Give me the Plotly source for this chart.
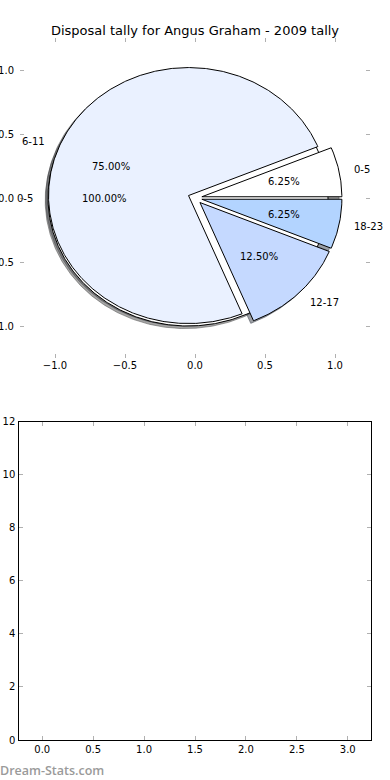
import numpy as np
import plotly.graph_objects as go

# ---------------- data ----------------
title_text = "Disposal tally for Angus Graham - 2009 tally"
under_labels = ["0-5"]
under_values = [16]
pie_labels = ["0-5", "6-11", "12-17", "18-23"]
pie_values = [1, 12, 2, 1]
pie_colors = ["#FFFFFF", "#EAF1FF", "#C5D9FF", "#B3D4FF"]
pie_ticks = [-1.0, -0.5, 0.0, 0.5, 1.0]
bar_xticks = [0.0, 0.5, 1.0, 1.5, 2.0, 2.5, 3.0]
bar_yticks = [0, 2, 4, 6, 8, 10, 12]
watermark = "Dream-Stats.com"

EXPLODE = 0.05
SHADOW = (-0.02, -0.02)
FONT = "DejaVu Sans"


def hex_rgb(h):
    h = h.lstrip("#")
    return tuple(int(h[i:i + 2], 16) for i in (0, 2, 4))


def build_wedges(values, labels, colors):
    total = float(sum(values))
    start = 0.0
    out = []
    for v, lab, col in zip(values, labels, colors):
        sweep = 360.0 * v / total
        t1, t2 = start, start + sweep
        mid = np.deg2rad((t1 + t2) / 2.0)
        cx, cy = EXPLODE * np.cos(mid), EXPLODE * np.sin(mid)
        th = np.deg2rad(np.linspace(t1, t2, max(int(sweep * 2), 8)))
        xs = cx + np.cos(th)
        ys = cy + np.sin(th)
        if sweep < 359.999:
            xs = np.concatenate([[cx], xs, [cx]])
            ys = np.concatenate([[cy], ys, [cy]])
        out.append(dict(xs=xs, ys=ys, color=col, label=lab,
                        pct=100.0 * v / total, mid=mid, cx=cx, cy=cy))
        start = t2
    return out


under = build_wedges(under_values, under_labels, pie_colors)
top = build_wedges(pie_values, pie_labels, pie_colors)

fig = go.Figure()

# shadows first (below all wedges)
for w in under + top:
    r, g, b = hex_rgb(w["color"])
    sc = "rgba(%d,%d,%d,0.5)" % (int(0.3 * r), int(0.3 * g), int(0.3 * b))
    fig.add_trace(go.Scatter(
        x=w["xs"] + SHADOW[0], y=w["ys"] + SHADOW[1], mode="lines",
        fill="toself", fillcolor=sc, line=dict(color=sc, width=1),
        hoverinfo="skip", showlegend=False, xaxis="x", yaxis="y"))

# wedges
for w in under + top:
    fig.add_trace(go.Scatter(
        x=w["xs"], y=w["ys"], mode="lines", fill="toself",
        fillcolor=w["color"], line=dict(color="black", width=1),
        hoverinfo="skip", showlegend=False, xaxis="x", yaxis="y"))

# labels
annotations = []
for w in under + top:
    lx = w["cx"] + 1.1 * np.cos(w["mid"])
    ly = w["cy"] + 1.1 * np.sin(w["mid"])
    annotations.append(dict(
        x=lx, y=ly, xref="x", yref="y", text=w["label"], showarrow=False,
        xanchor="left" if lx > 0 else "right", yanchor="middle", borderpad=0,
        font=dict(family=FONT, size=10, color="black")))
    px = w["cx"] + 0.6 * np.cos(w["mid"])
    py = w["cy"] + 0.6 * np.sin(w["mid"])
    annotations.append(dict(
        x=px, y=py, xref="x", yref="y", text="%.2f%%" % w["pct"],
        showarrow=False, xanchor="center", yanchor="middle", borderpad=0,
        font=dict(family=FONT, size=10, color="black")))

annotations.append(dict(
    x=-0.002, y=1 - 770 / 780, xref="paper", yref="paper", text=watermark,
    showarrow=False, xanchor="left", yanchor="middle", borderpad=0,
    font=dict(family="Open Sans", size=12.5, color="#9a9a9a", weight=600)))

# empty lower axes
fig.add_trace(go.Scatter(x=[], y=[], xaxis="x2", yaxis="y2",
                         showlegend=False, hoverinfo="skip"))


def fmt(v):
    s = "%.1f" % v
    return s.replace("-", "\u2212")


tick_style = dict(ticks="inside", ticklen=4, tickwidth=1, tickcolor="#b0b0b0",
                  showgrid=False, zeroline=False, automargin=False,
                  tickfont=dict(family=FONT, size=10, color="black"))

fig.update_layout(
    width=390, height=780, margin=dict(l=0, r=0, t=0, b=0, autoexpand=False),
    paper_bgcolor="white", plot_bgcolor="white",
    title=dict(text=title_text, x=0.5, xanchor="center", y=1 - 30 / 780,
               yanchor="middle", font=dict(family=FONT, size=13, color="black"),
               automargin=False),
    xaxis=dict(domain=[20 / 390, 370 / 390], range=[-1.25, 1.25],
               tickvals=pie_ticks, ticktext=[fmt(v) for v in pie_ticks],
               showline=False, mirror="ticks", anchor="y", **tick_style),
    yaxis=dict(domain=[1 - 358 / 780, 1 - 38 / 780], range=[-1.25, 1.25],
               tickvals=pie_ticks, ticktext=[fmt(v) for v in pie_ticks],
               showline=False, mirror="ticks", anchor="x",
               ticklabelstandoff=5, **tick_style),
    xaxis2=dict(domain=[19.3 / 390, 370.7 / 390], range=[-0.225, 3.225],
                tickvals=bar_xticks, ticktext=[fmt(v) for v in bar_xticks],
                showline=True, linecolor="black", linewidth=1, mirror="ticks",
                anchor="y2", **tick_style),
    yaxis2=dict(domain=[1 - 740 / 780, 1 - 421.7 / 780], range=[0, 12],
                tickvals=bar_yticks, ticktext=[str(v) for v in bar_yticks],
                showline=True, linecolor="black", linewidth=1, mirror="ticks",
                anchor="x2", ticklabelstandoff=1, **tick_style),
    annotations=annotations,
)

fig.write_html(
    "out.html",
    config={"displayModeBar": False, "staticPlot": True},
    post_script="document.body.style.margin='0';document.body.style.overflow='hidden';",
)
